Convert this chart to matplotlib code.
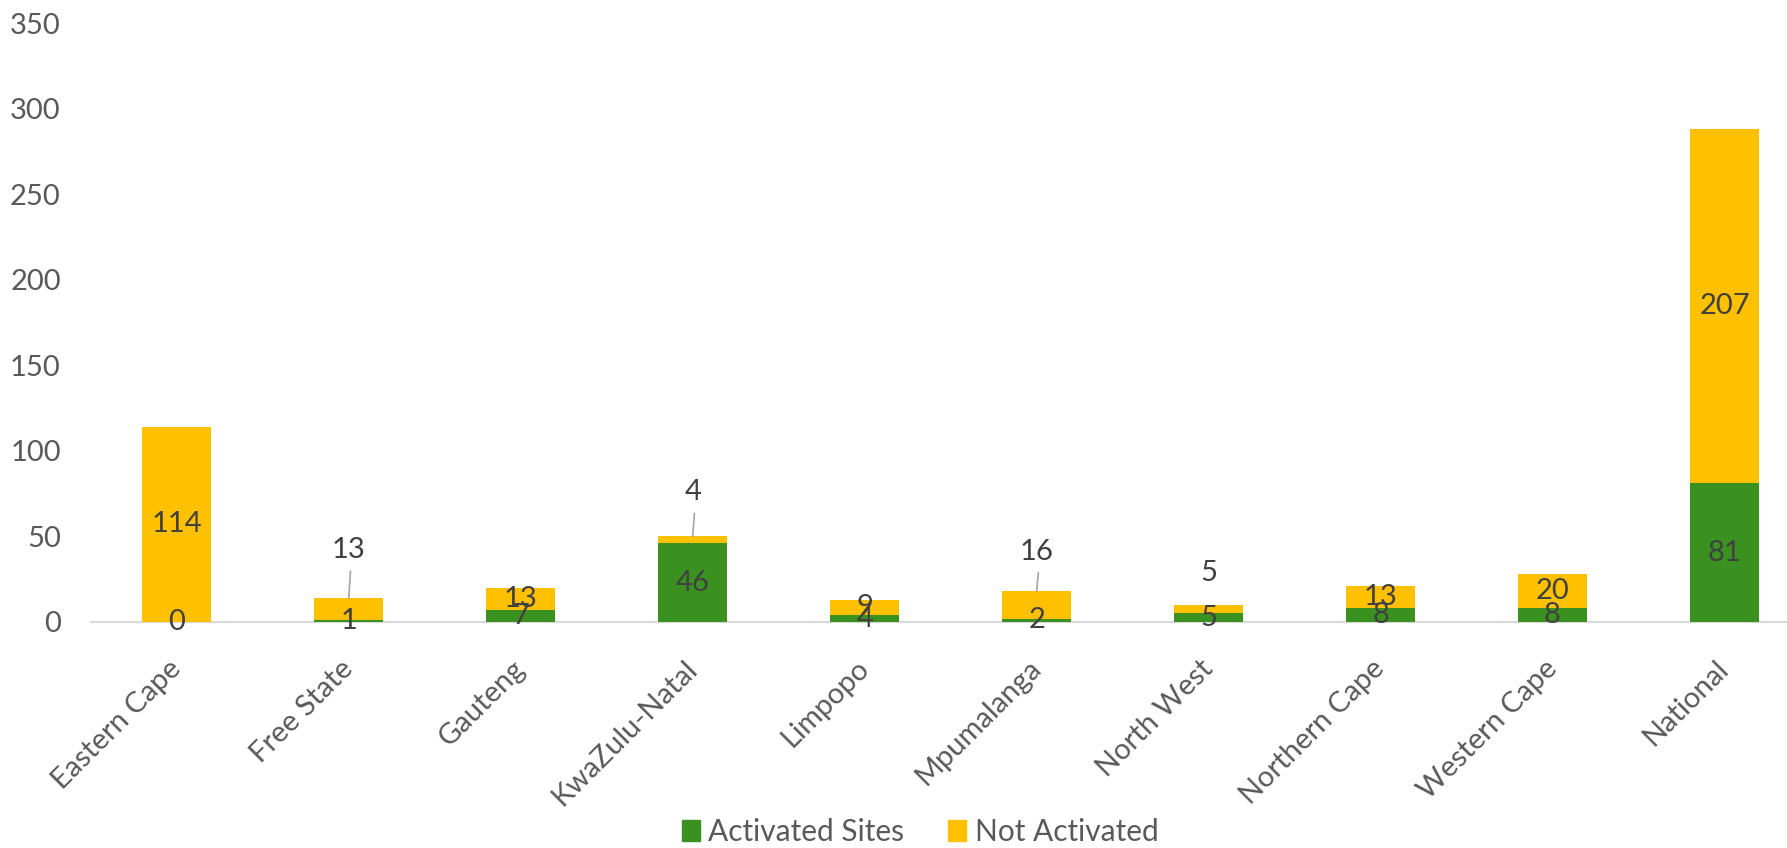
import matplotlib.pyplot as plt
import matplotlib.transforms as mtransforms
import numpy as np
from matplotlib.patches import Patch

plt.rcParams['font.family'] = ['Lato', 'DejaVu Sans']

provinces = ["Eastern Cape", "Free State", "Gauteng", "KwaZulu-Natal", "Limpopo",
             "Mpumalanga", "North West", "Northern Cape", "Western Cape", "National"]
activated = [0, 1, 7, 46, 4, 2, 5, 8, 8, 81]
not_activated = [114, 13, 13, 4, 9, 16, 5, 13, 20, 207]

GREEN = "#3B9120"
YELLOW = "#FFC000"
LABEL_COLOR = "#404040"
AXIS_COLOR = "#595959"
FS = 21

# labels that sit above the bar instead of inside it (y position in data units)
moved_labels = {1: 42.1, 3: 75.8, 5: 41.1, 6: 28.7}
leader_lines = [1, 3, 5]

fig = plt.figure(figsize=(17.87, 8.48), dpi=100)
ax = fig.add_axes([90.8 / 1787, 226 / 848, 1719.7 / 1787, 598.7 / 848])

x = np.arange(len(provinces))
act = np.array(activated)
nact = np.array(not_activated)

ax.bar(x, act, width=0.4, color=GREEN, zorder=2)
ax.bar(x, nact, width=0.4, bottom=act, color=YELLOW, zorder=2)

# data labels
for i in x:
    ax.text(i, act[i] / 2, str(act[i]), ha="center", va="center",
            fontsize=FS, color=LABEL_COLOR, zorder=4)
    top = act[i] + nact[i]
    if i in moved_labels:
        ly = moved_labels[i]
        ax.text(i, ly, str(nact[i]), ha="center", va="center",
                fontsize=FS, color=LABEL_COLOR, zorder=4)
        if i in leader_lines:
            ax.plot([i + 0.01, i], [ly - 12.4, top], color="#A6A6A6", lw=1.2, zorder=3)
    else:
        ax.text(i, act[i] + nact[i] / 2, str(nact[i]), ha="center", va="center",
                fontsize=FS, color=LABEL_COLOR, zorder=4)

ax.set_xlim(-0.5, len(provinces) - 0.5)
ax.set_ylim(0, 350)
ax.set_yticks(np.arange(0, 351, 50))
ax.tick_params(axis="y", length=0, pad=21.6, labelsize=FS, labelcolor=AXIS_COLOR)
ax.tick_params(axis="x", length=0, pad=24, labelsize=FS, labelcolor=AXIS_COLOR)
ax.set_xticks(x)
ax.set_xticklabels(provinces, rotation=45, ha="right", rotation_mode="anchor")
shift = mtransforms.ScaledTranslation(-9 / 100, 0, fig.dpi_scale_trans)
for lbl in ax.get_xticklabels():
    lbl.set_transform(lbl.get_transform() + shift)

for side in ["top", "right", "left"]:
    ax.spines[side].set_visible(False)
ax.spines["bottom"].set_color("#D9D9D9")
ax.spines["bottom"].set_linewidth(1.5)
ax.spines["bottom"].set_zorder(1)

handles = [Patch(color=GREEN, label="Activated Sites"),
           Patch(color=YELLOW, label="Not Activated")]
fig.legend(handles=handles, loc="center", bbox_to_anchor=(920 / 1787, 16 / 848),
           ncol=2, frameon=False, fontsize=21.5, labelcolor=AXIS_COLOR,
           handlelength=0.6, handleheight=0.68, handletextpad=0.3,
           columnspacing=1.45, borderpad=0)

fig.savefig("out.png", dpi=100)
